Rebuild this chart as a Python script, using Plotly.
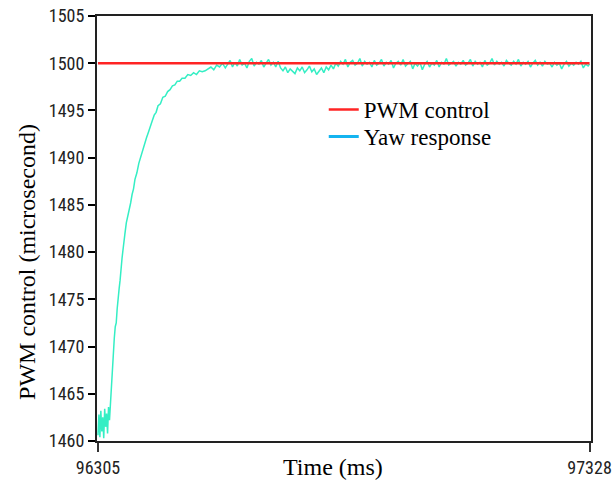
import plotly.graph_objects as go

# ---------------- data ----------------
pwm_time_ms = [96305, 97328]
pwm_us = [1500, 1500]

rise_time_ms = [
    96305, 96307, 96309, 96311, 96313, 96315, 96317, 96319, 96321, 96323,
    96325, 96327, 96329, 96331, 96333, 96335, 96337, 96339, 96341, 96343,
    96345, 96347, 96349, 96351, 96353, 96355, 96357, 96359, 96361, 96364,
    96367, 96370, 96373, 96376, 96379, 96382, 96386, 96390, 96394, 96398,
    96402, 96406, 96410, 96414, 96418, 96422, 96426, 96430, 96435, 96440,
    96445, 96450, 96455, 96460, 96465, 96470, 96475, 96480, 96486, 96492,
    96498, 96504, 96510, 96516, 96522, 96528, 96534, 96540, 96546, 96552,
    96558, 96564, 96570,
]
rise_us = [
    1460.6, 1462.8, 1460.4, 1463.2, 1461.0, 1462.5, 1460.3, 1463.4, 1461.5, 1462.9,
    1460.8, 1463.6, 1462.2, 1464.0, 1466.8, 1468.5, 1470.2, 1470.9, 1472.1, 1472.5,
    1474.0, 1475.4, 1476.1, 1477.0, 1478.7, 1479.3, 1480.2, 1481.4, 1481.9, 1483.1,
    1483.7, 1484.6, 1485.2, 1486.1, 1486.7, 1487.7, 1488.4, 1489.4, 1490.1, 1490.9,
    1491.4, 1492.1, 1492.7, 1493.4, 1493.9, 1494.5, 1494.8, 1495.5, 1495.7, 1496.4,
    1496.5, 1497.0, 1497.2, 1497.6, 1497.7, 1498.1, 1498.1, 1498.4, 1498.4, 1498.8,
    1498.7, 1499.0, 1498.8, 1499.2, 1499.1, 1499.2, 1499.4, 1499.6, 1499.3, 1499.8,
    1499.6, 1500.0, 1499.5,
]

steady_time_ms = [
    96575, 96580, 96585, 96590, 96595, 96600, 96605, 96610, 96615, 96620,
    96625, 96630, 96635, 96640, 96645, 96650, 96655, 96660, 96665, 96670,
    96675, 96680,
    96685, 96690, 96695, 96700, 96705, 96710, 96715, 96720, 96725, 96730,
    96735, 96740, 96745, 96750, 96755, 96760, 96765, 96770, 96775, 96780,
    96785, 96790, 96795,
    96800, 96805, 96810, 96815, 96820, 96825, 96830, 96835, 96840, 96845,
    96850, 96855, 96860, 96865, 96870, 96875, 96880, 96885, 96890, 96895,
    96900, 96905, 96910, 96915, 96920, 96925, 96930, 96935, 96940, 96945,
    96950, 96955, 96960, 96965, 96970, 96975, 96980, 96985, 96990, 96995,
    97000, 97005, 97010, 97015, 97020, 97025, 97030, 97035, 97040, 97045,
    97050, 97055, 97060, 97065, 97070, 97075, 97080, 97085, 97090, 97095,
    97100, 97105, 97110, 97115, 97120, 97125, 97130, 97135, 97140, 97145,
    97150, 97155, 97160, 97165, 97170, 97175, 97180, 97185, 97190, 97195,
    97200, 97205, 97210, 97215, 97220, 97225, 97230, 97235, 97240, 97245,
    97250, 97255, 97260, 97265, 97270, 97275, 97280, 97285, 97290, 97295,
    97300, 97305, 97310, 97315, 97320, 97325, 97328,
]
steady_us = [
    1499.9, 1500.3, 1499.6, 1500.1, 1499.7, 1500.4, 1499.8, 1500.0, 1499.5, 1500.2,
    1500.5, 1499.7, 1500.1, 1499.9, 1500.3, 1499.6, 1500.0, 1500.4, 1499.8, 1500.1,
    1499.6, 1500.2,
    1499.5, 1499.2, 1499.6, 1499.0, 1499.4, 1499.1, 1498.9, 1499.5, 1499.2, 1499.6,
    1499.0, 1499.3, 1499.7, 1499.1, 1499.4, 1498.8, 1499.2, 1499.5, 1499.0, 1499.6,
    1499.3, 1499.8, 1499.4,
    1500.0, 1499.7, 1500.2, 1499.9, 1500.4, 1499.6, 1500.1, 1500.3, 1499.8, 1500.0,
    1500.5, 1499.7, 1500.2, 1499.9, 1500.1, 1499.6, 1500.3, 1499.8, 1500.0, 1500.4,
    1499.7, 1500.1, 1499.9, 1500.3, 1499.5, 1500.0, 1500.2, 1499.8, 1500.4, 1499.7,
    1499.9, 1500.2, 1499.4, 1500.0, 1499.7, 1500.1, 1499.3, 1499.9, 1500.2, 1499.6,
    1500.0, 1499.8, 1500.3, 1499.6, 1500.1, 1499.9, 1500.5, 1499.8, 1500.0, 1500.2,
    1499.7, 1500.1, 1499.9, 1500.3, 1499.8, 1500.0, 1500.4, 1499.7, 1500.2, 1499.9,
    1500.1, 1499.6, 1500.3, 1499.8, 1500.0, 1500.5, 1499.8, 1500.2, 1499.9, 1500.1,
    1499.7, 1500.3, 1500.0, 1499.8, 1500.2, 1499.9, 1500.4, 1499.7, 1500.1, 1499.9,
    1500.2, 1499.6, 1500.0, 1500.3, 1499.8, 1500.1, 1499.7, 1500.2, 1499.9, 1500.0,
    1499.6, 1500.1, 1499.8, 1500.0, 1499.4, 1499.9, 1500.2, 1499.7, 1500.0, 1499.8,
    1500.1, 1499.9, 1500.2, 1499.5, 1499.9, 1499.7, 1499.9,
]

yaw_time_ms = rise_time_ms + steady_time_ms
yaw_us = rise_us + steady_us

x_tick_vals = [96305, 97328]
x_tick_text = ["96305", "97328"]
y_tick_vals = [1460, 1465, 1470, 1475, 1480, 1485, 1490, 1495, 1500, 1505]

# ---------------- figure ----------------
SERIF = "Liberation Serif, Times New Roman, serif"
NARROW = "Liberation Sans Narrow, Arial Narrow, Roboto Condensed, sans-serif"
LEG_FONT = dict(family=SERIF, size=23, color="black")

fig = go.Figure()
fig.add_trace(go.Scatter(
    x=yaw_time_ms, y=yaw_us, mode="lines",
    line=dict(color="#34EEC4", width=1.5), showlegend=False,
))
fig.add_trace(go.Scatter(
    x=pwm_time_ms, y=pwm_us, mode="lines", name="PWM control",
    line=dict(color="#FF2424", width=2.5), legend="legend",
))
# legend entry for the response (legend swatch colour differs in the original)
fig.add_trace(go.Scatter(
    x=[None], y=[None], mode="lines", name="Yaw response",
    line=dict(color="#14B4F0", width=3), legend="legend2",
))

fig.update_layout(
    width=612, height=486,
    margin=dict(l=97, r=21, t=16, b=45, autoexpand=False),
    paper_bgcolor="white", plot_bgcolor="white",
    showlegend=True,
    legend=dict(
        x=0.459, y=0.8306, xanchor="left", yanchor="top",
        bgcolor="rgba(0,0,0,0)", font=LEG_FONT,
    ),
    legend2=dict(
        x=0.459, y=0.767, xanchor="left", yanchor="top",
        bgcolor="rgba(0,0,0,0)", font=LEG_FONT,
    ),
    xaxis=dict(
        range=[96303, 97331], tickvals=x_tick_vals, ticktext=x_tick_text,
        showgrid=False, zeroline=False, automargin=False,
        showline=True, linecolor="#222", linewidth=2, mirror=True,
        ticks="outside", ticklen=9, tickwidth=1.5, tickcolor="#333",
        tickfont=dict(family=NARROW, size=18, color="#222"),
    ),
    yaxis=dict(
        range=[1460, 1505], tickvals=y_tick_vals,
        showgrid=False, zeroline=False, automargin=False,
        showline=True, linecolor="#222", linewidth=2, mirror=True,
        ticks="outside", ticklen=7, tickwidth=2, tickcolor="black",
        tickfont=dict(family=NARROW, size=18, color="#222"),
    ),
    annotations=[
        dict(text="Time (ms)", xref="paper", yref="paper", x=0.478, y=-0.061,
             xanchor="center", yanchor="middle", showarrow=False,
             font=dict(family=SERIF, size=24, color="black")),
        dict(text="PWM control (microsecond)", xref="paper", yref="paper",
             x=-0.142, y=0.421, xanchor="center", yanchor="middle", textangle=-90,
             showarrow=False, font=dict(family=SERIF, size=24, color="black")),
    ],
)

fig.write_html("out.html", config={"displayModeBar": False},
               post_script="document.body.style.margin='0';")
